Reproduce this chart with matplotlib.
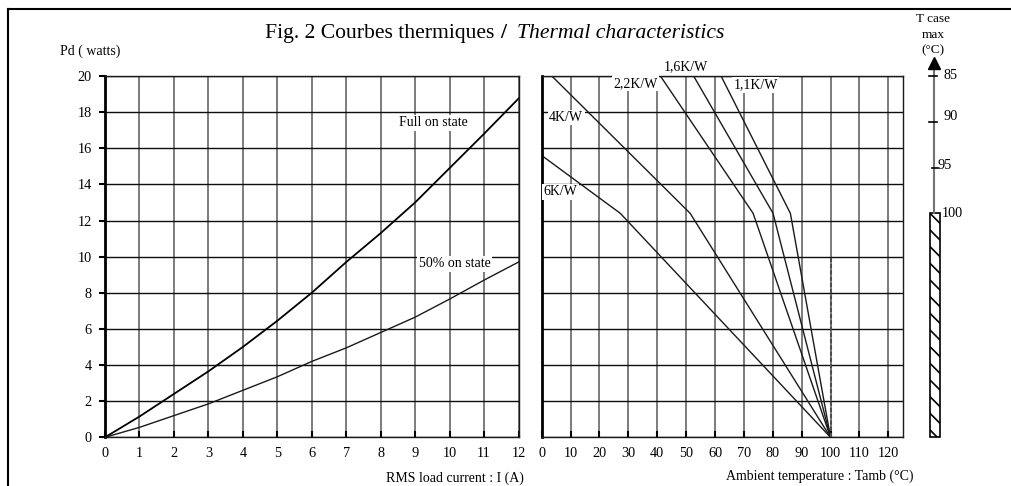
import matplotlib
matplotlib.use('Agg')
import matplotlib.pyplot as plt
from matplotlib.patches import Rectangle
from matplotlib.lines import Line2D
from matplotlib.transforms import offset_copy

plt.rcParams['font.family'] = 'Liberation Serif'
plt.rcParams['font.size'] = 10
plt.rcParams['hatch.linewidth'] = 1.2

# left chart : dissipated power vs RMS current
current = [0, 1, 2, 3, 4, 5, 6, 7, 8, 9, 10, 11, 12]
pd_full = [0, 1.15, 2.4, 3.65, 5.0, 6.45, 8.0, 9.7, 11.3, 13.0, 14.9, 16.8, 18.75]
pd_half = [0, 0.55, 1.2, 1.85, 2.6, 3.35, 4.2, 4.95, 5.8, 6.65, 7.65, 8.7, 9.7]

# right chart : derating for each heatsink thermal resistance
rth_names = ['6K/W', '4K/W', '2,2K/W', '1,6K/W', '1,1K/W']
rth_tamb = [[0, 27.2, 100], [3.5, 51.4, 100], [41.1, 73.2, 100],
            [52.6, 80.1, 100], [62.1, 86.1, 100]]
rth_pd = [[15.6, 12.4, 0], [20, 12.4, 0], [20, 12.4, 0],
          [20, 12.4, 0], [20, 12.4, 0]]
rth_label_pos = [(6.6, 13.6), (8.5, 17.7), (32.4, 19.6), (50.0, 20.5), (74.1, 19.5)]

# case temperature scale
tcase_ticks = [85, 90, 95, 100]
pd_top = 20
pd_kink = 12.4

W, H = 1011, 486
fig = plt.figure(figsize=(W / 100, H / 100), dpi=100)

bot = (H - 437.3) / H
hgt = 361.3 / H
ax1 = fig.add_axes([105 / W, bot, 413.5 / W, hgt])
ax2 = fig.add_axes([541.7 / W, bot, 361 / W, hgt])

for ax in (ax1, ax2):
    ax.set_ylim(0, 20)
    ax.set_yticks(range(0, 21, 2))
    ax.grid(axis='y', color='0.05', lw=1.0)
    ax.grid(axis='x', color='0.35', lw=1.1)
    ax.set_axisbelow(True)
    for s in ax.spines.values():
        s.set_linewidth(1.0)
        s.set_color('0.1')
    ax.spines['left'].set_linewidth(2.0)
    ax.spines['left'].set_color('black')
    ax.tick_params(axis='x', direction='in', length=4, width=1.5, pad=7, labelsize=10.3)

ax1.set_xlim(0, 12)
ax1.set_xticks(current)
ax1.tick_params(axis='y', direction='out', length=4, width=1.5, pad=5.5, labelsize=10.3)
ax1.plot(current, pd_full, color='black', lw=1.3)
ax1.plot(current, pd_half, color='0.1', lw=1.0)
ax1.text(9.53, 17.4, 'Full on state', ha='center', va='center', fontsize=10,
         bbox=dict(facecolor='white', edgecolor='none', pad=1))
ax1.text(10.14, 9.6, '50% on state', ha='center', va='center', fontsize=10,
         bbox=dict(facecolor='white', edgecolor='none', pad=1))

ax2.set_xlim(0, 125)
ax2.set_xticks(range(0, 121, 10))
ax2.tick_params(axis='y', length=0, labelleft=False)
for t, p in zip(rth_tamb, rth_pd):
    ax2.plot(t, p, color='0.1', lw=1.0)
ax2.plot([100, 100], [0, 10], color='0.3', lw=1.5, ls=(0, (2, 1)))
for name, (x, y) in zip(rth_names, rth_label_pos):
    ax2.text(x, y, name, ha='center', va='center', fontsize=10, clip_on=False,
             bbox=dict(facecolor='white', edgecolor='none', pad=1))

# case temperature scale, linear with Pd
k = (tcase_ticks[-1] - tcase_ticks[0]) / (pd_top - pd_kink)
tc_bottom = tcase_ticks[-1] + pd_kink * k
axc = fig.add_axes([930 / W, bot, 10 / W, hgt])
axc.axis('off')
axc.set_xlim(0, 1)
axc.set_ylim(tc_bottom, tcase_ticks[0])
axc.add_patch(Rectangle((0, 100), 1, tc_bottom - 100, fill=False, hatch='\\\\',
                        lw=1.2, edgecolor='black', clip_on=False))
axc.plot([0.35, 0.35], [100, 83.5], color='0.45', lw=1.5, clip_on=False)
tr = offset_copy(axc.transData, fig=fig, x=0, y=9, units='points')
axc.plot([0.35], [85], marker='^', ms=9, color='black', transform=tr, clip_on=False)
tick_x = [(-0.1, 0.7), (-0.1, 0.7), (0.15, 0.8)]
label_x = [1.3, 1.3, 0.8, 1.15]
label_dy = [0, -0.6, -0.2, 0]
for i, tc in enumerate(tcase_ticks):
    if i < 3:
        axc.plot(tick_x[i], [tc, tc], color='black', lw=1.2, clip_on=False)
    axc.text(label_x[i], tc + label_dy[i], str(tc), ha='left', va='center',
             fontsize=10.3, clip_on=False)

fig.text(933 / W, 1 - 19 / H, 'T case', ha='center', va='center', fontsize=9.5)
fig.text(933 / W, 1 - 35 / H, 'max', ha='center', va='center', fontsize=9.5)
fig.text(933 / W, 1 - 50 / H, '(°C)', ha='center', va='center', fontsize=9.5)

# titles and axis names
fig.text(494 / W, 1 - 33.3 / H, 'Fig. 2 Courbes thermiques', ha='right', va='center',
         fontsize=15.6)
fig.text(503 / W, 1 - 33.3 / H, '/', ha='center', va='center', fontsize=15.6,
         fontweight='bold')
fig.text(517 / W, 1 - 33.3 / H, 'Thermal characteristics', ha='left', va='center',
         fontsize=15.6, style='italic')
fig.text(120.7 / W, 1 - 51 / H, 'Pd ( watts)', ha='right', va='center', fontsize=10)
fig.text(523.4 / W, 1 - 478 / H, 'RMS load current : I (A)', ha='right', va='center',
         fontsize=10)
fig.text(913 / W, 1 - 476 / H, 'Ambient temperature : Tamb (°C)', ha='right',
         va='center', fontsize=10)

# outer frame (top and left edges only)
fig.add_artist(Line2D([8.3 / W, 1], [1 - 9.3 / H, 1 - 9.3 / H], color='black', lw=1.5))
fig.add_artist(Line2D([8.3 / W, 8.3 / W], [1 - 9.3 / H, 0], color='black', lw=1.5))

fig.savefig('out.png', dpi=100)
